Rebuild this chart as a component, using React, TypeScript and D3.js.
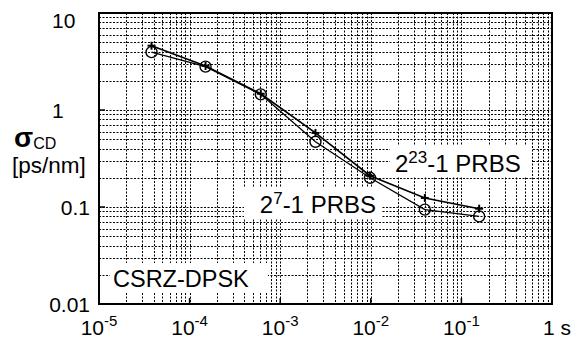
import React, { useEffect, useRef } from 'react';
import * as d3 from 'd3';

// measurement durations (s)
const durations = [3.8e-5, 1.5e-4, 6.1e-4, 2.45e-3, 9.8e-3, 3.95e-2, 1.57e-1];
// sigma CD [ps/nm] for the two patterns
const prbs23 = [4.6, 2.85, 1.47, 0.58, 0.21, 0.124, 0.096];
const prbs7 = [3.95, 2.8, 1.45, 0.47, 0.2, 0.094, 0.08];

const xTicks = [1e-5, 1e-4, 1e-3, 1e-2, 1e-1, 1];
const xTickExp = ['-5', '-4', '-3', '-2', '-1', ''];
const yTicks = [10, 1, 0.1, 0.01];
const yTickLabels = ['10', '1', '0.1', '0.01'];

const W = 582;
const H = 340;
const FONT = 'Arial, "Liberation Sans", sans-serif';

export default function App() {
  const ref = useRef<SVGSVGElement>(null);

  useEffect(() => {
    const svg = d3.select(ref.current);
    svg.selectAll('*').remove();

    const x = d3.scaleLog().domain([1e-5, 1]).range([99, 552]);
    const y = d3.scaleLog().domain([0.01, 10]).range([304, 13]);
    const [x0, x1] = x.range();
    const [y0, y1] = y.range();

    // dotted grid on every minor value
    const grid = svg.append('g').attr('stroke', '#000').attr('stroke-width', 1)
      .attr('stroke-dasharray', '2,1.5');
    grid.selectAll('line.vx')
      .data(x.ticks().filter(v => x(v) > x0 + 1 && x(v) < x1 - 1))
      .enter().append('line')
      .attr('x1', d => Math.round(x(d)) + 0.5).attr('x2', d => Math.round(x(d)) + 0.5)
      .attr('y1', y1).attr('y2', y0);
    grid.selectAll('line.hy')
      .data(y.ticks().filter(v => y(v) > y1 + 1 && y(v) < y0 - 1))
      .enter().append('line')
      .attr('y1', d => Math.round(y(d)) + 0.5).attr('y2', d => Math.round(y(d)) + 0.5)
      .attr('x1', x0).attr('x2', x1);

    // major ticks inside
    svg.append('g').selectAll('line')
      .data(xTicks.slice(1, -1)).enter().append('line')
      .attr('x1', d => x(d)).attr('x2', d => x(d))
      .attr('y1', y0).attr('y2', y0 - 6)
      .attr('stroke', '#000').attr('stroke-width', 1.5);
    svg.append('g').selectAll('line')
      .data(yTicks.slice(1, -1)).enter().append('line')
      .attr('y1', d => y(d)).attr('y2', d => y(d))
      .attr('x1', x0).attr('x2', x0 + 6)
      .attr('stroke', '#000').attr('stroke-width', 1.5);

    // white label boxes
    const boxes = [
      [390, 146, 142, 31],
      [244, 188, 138, 30],
      [110, 263, 158, 29],
    ];
    svg.append('g').selectAll('rect').data(boxes).enter().append('rect')
      .attr('x', d => d[0]).attr('y', d => d[1])
      .attr('width', d => d[2]).attr('height', d => d[3])
      .attr('fill', '#fff');

    // frame
    svg.append('rect')
      .attr('x', x0).attr('y', y1)
      .attr('width', x1 - x0).attr('height', y0 - y1)
      .attr('fill', 'none').attr('stroke', '#000').attr('stroke-width', 2);

    const line = d3.line<number>()
      .x((_, i) => x(durations[i]))
      .y(d => y(d));

    svg.append('path').datum(prbs7).attr('d', line)
      .attr('fill', 'none').attr('stroke', '#000').attr('stroke-width', 1.3);
    svg.append('path').datum(prbs23).attr('d', line)
      .attr('fill', 'none').attr('stroke', '#000').attr('stroke-width', 1.6);

    svg.append('g').selectAll('circle').data(prbs7).enter().append('circle')
      .attr('cx', (_, i) => x(durations[i])).attr('cy', d => y(d))
      .attr('r', 5.5).attr('fill', 'none').attr('stroke', '#000').attr('stroke-width', 1.4);

    const plus = svg.append('g').attr('stroke', '#000').attr('stroke-width', 2);
    prbs23.forEach((v, i) => {
      const cx = x(durations[i]);
      const cy = y(v);
      plus.append('line').attr('x1', cx - 4).attr('x2', cx + 4).attr('y1', cy).attr('y2', cy);
      plus.append('line').attr('x1', cx).attr('x2', cx).attr('y1', cy - 4).attr('y2', cy + 4);
    });

    // annotations
    const t23 = svg.append('text').attr('x', 395).attr('y', 172)
      .attr('font-family', FONT).attr('font-size', 24);
    t23.append('tspan').text('2');
    t23.append('tspan').attr('dy', -9).attr('font-size', 17).text('23');
    t23.append('tspan').attr('dy', 9).text('-1 PRBS');

    const t7 = svg.append('text').attr('x', 376).attr('y', 213)
      .attr('text-anchor', 'end').attr('font-family', FONT).attr('font-size', 24);
    t7.append('tspan').text('2');
    t7.append('tspan').attr('dy', -9).attr('font-size', 17).text('7');
    t7.append('tspan').attr('dy', 9).text('-1 PRBS');

    svg.append('text').attr('x', 113).attr('y', 287)
      .attr('font-family', FONT).attr('font-size', 23.5).text('CSRZ-DPSK');

    // y tick labels
    svg.append('g').selectAll('text').data(yTicks).enter().append('text')
      .attr('x', (d, i) => (i < 2 ? 52 : 90))
      .attr('y', (d, i) => (i === 0 ? 28 : y(d) + 8))
      .attr('text-anchor', (d, i) => (i < 2 ? 'start' : 'end'))
      .attr('font-family', FONT).attr('font-size', 21)
      .text((d, i) => yTickLabels[i]);

    // x tick labels
    xTicks.forEach((v, i) => {
      const t = svg.append('text').attr('y', 335)
        .attr('font-family', FONT).attr('font-size', 21);
      if (xTickExp[i]) {
        t.attr('x', x(v)).attr('text-anchor', 'middle');
        t.append('tspan').text('10');
        t.append('tspan').attr('dy', -9).attr('font-size', 15).text(xTickExp[i]);
      } else {
        t.attr('x', x(v) - 9).text('1 s');
      }
    });

    // y axis title
    const ttl = svg.append('text').attr('x', 14).attr('y', 147).attr('font-family', FONT);
    ttl.append('tspan').attr('font-size', 28).attr('font-weight', 'bold').text('σ');
    ttl.append('tspan').attr('font-size', 16).attr('dy', 2).text('CD');
    svg.append('text').attr('x', 12).attr('y', 173)
      .attr('font-family', FONT).attr('font-size', 22.5).text('[ps/nm]');
  }, []);

  return (
    <svg ref={ref} width={W} height={H}
      style={{ position: 'absolute', left: 0, top: 0, background: '#fff' }} />
  );
}
